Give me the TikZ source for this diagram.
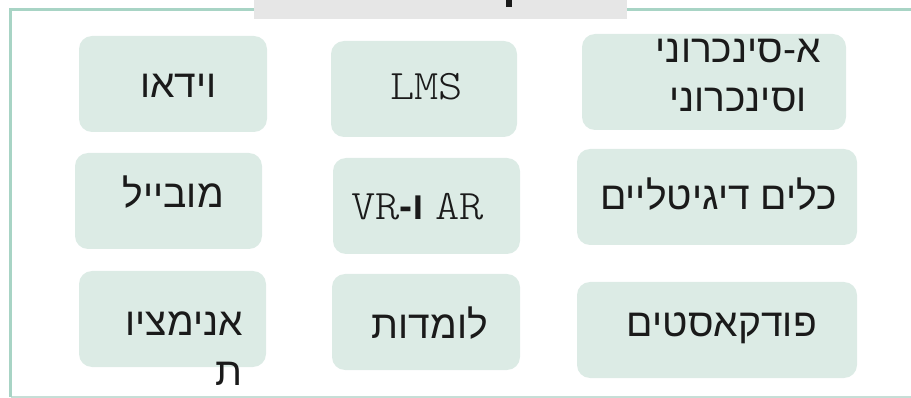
\documentclass[tikz,border=0pt]{standalone}
\usepackage{fontspec}
\TeXXeTstate=1
\newfontfamily\hebfont[Script=Hebrew]{Liberation Sans}
\newfontfamily\plainsans{Liberation Sans}
\newfontfamily\courfont{lmmonolt10-regular.otf}[FakeStretch=1.1]
\definecolor{frameline}{HTML}{A8D4C5}
\definecolor{framebottom}{HTML}{C6DED6}
\definecolor{boxfill}{HTML}{DCEBE5}
\definecolor{titlegray}{HTML}{E6E6E6}
\definecolor{txt}{HTML}{1A1A1A}
\begin{document}
\begin{tikzpicture}[x=1pt,y=-1pt,
  cell/.style={fill=boxfill, draw=none, rounded corners=13pt, inner sep=0pt},
  heb/.style={inner sep=0pt, text=txt, font=\hebfont\fontsize{39}{49}\selectfont},
  mono/.style={inner sep=0pt, text=txt, font=\courfont\fontsize{42}{46}\selectfont}]
\useasboundingbox (0,0) rectangle (911,398);
% frame
\draw[framebottom, line width=1.5pt] (10.5,397.2) -- (911,397.2);
\draw[frameline, line width=3.5pt] (10.5,397) -- (10.5,9.5) -- (911,9.5);
\fill[titlegray] (254,0) rectangle (627,19);
\fill[txt] (506,0) rectangle (512,7);
% boxes
\node[cell, minimum width=188pt, minimum height=96pt] (vid) at (173,84) {};
\node[cell, minimum width=186pt, minimum height=96pt] (lms) at (424,89) {};
\node[cell, minimum width=264pt, minimum height=96pt] (sync) at (714,82) {};
\node[cell, minimum width=187pt, minimum height=96pt] (mob) at (168.5,201) {};
\node[cell, minimum width=187pt, minimum height=96pt] (vr) at (426.5,206) {};
\node[cell, minimum width=280pt, minimum height=96pt] (dig) at (717,197) {};
\node[cell, minimum width=187pt, minimum height=96pt] (anim) at (172.5,319) {};
\node[cell, minimum width=188pt, minimum height=96pt] (lom) at (426,322) {};
\node[cell, minimum width=280pt, minimum height=96pt] (pod) at (717,330) {};
% texts
\node[heb, anchor=base east] (tvid) at (217,98) {\beginR וידאו\endR};
\node[mono, anchor=base] (tlms) at (426.5,100) {LMS};
\node[heb, anchor=base east] (tsyncA) at (821,63) {\beginR א-סינכרוני\endR};
\node[heb, anchor=base east] (tsyncB) at (807,112) {\beginR וסינכרוני\endR};
\node[heb, anchor=base east] (tmob) at (224,208) {\beginR מובייל\endR};
\node[mono, anchor=base west] (tvr) at (351,220) {VR{\plainsans\bfseries\fontsize{39}{46}\selectfont -}{\hebfont\bfseries\fontsize{39}{46}\selectfont ו}{\plainsans\fontsize{39}{46}\selectfont\ }AR};
\node[heb, anchor=base east] (tdig) at (837,210) {\beginR כלים דיגיטליים\endR};
\node[heb, anchor=base east] (tanimA) at (243,335) {\beginR אנימציו\endR};
\node[heb, anchor=base east] (tanimB) at (243,385) {\beginR ת\endR};
\node[heb, anchor=base east] (tlom) at (488,338) {\beginR לומדות\endR};
\node[heb, anchor=base east] (tpod) at (817,337) {\beginR פודקאסטים\endR};
\end{tikzpicture}
\end{document}
